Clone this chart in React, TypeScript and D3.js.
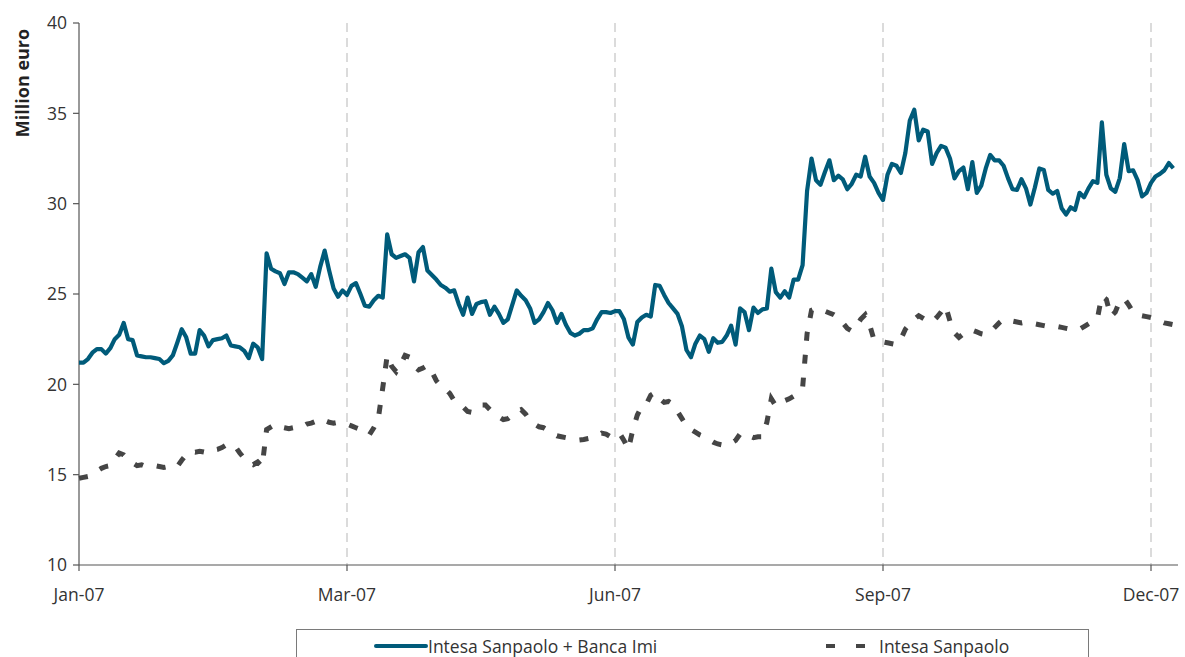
import * as React from 'react'
import { scaleLinear, line } from 'd3'

// category axis: one point per trading day, a label every 60 points
const tickIndex = [0, 60, 120, 180, 240]
const tickLabels = ['Jan-07', 'Mar-07', 'Jun-07', 'Sep-07', 'Dec-07']
const yTicks = [10, 15, 20, 25, 30, 35, 40]

const seriesNames = ['Intesa Sanpaolo + Banca Imi', 'Intesa Sanpaolo']

const groupValues = [
  21.2, 21.2, 21.4, 21.75, 21.95, 21.95, 21.7, 22.0, 22.5, 22.75,
  23.4, 22.5, 22.45, 21.6, 21.55, 21.5, 21.5, 21.45, 21.4, 21.17,
  21.3, 21.6, 22.3, 23.05, 22.6, 21.7, 21.7, 23.0, 22.7, 22.1,
  22.45, 22.5, 22.55, 22.7, 22.15, 22.1, 22.05, 21.85, 21.45, 22.25,
  22.05, 21.4, 27.25, 26.4, 26.25, 26.15, 25.55, 26.2, 26.2, 26.1,
  25.9, 25.7, 26.1, 25.4, 26.5, 27.4, 26.3, 25.3, 24.85, 25.2,
  24.95, 25.45, 25.6, 25.0, 24.35, 24.3, 24.65, 24.9, 24.8, 28.3,
  27.2, 27.0, 27.1, 27.2, 27.0, 25.7, 27.3, 27.6, 26.3, 26.05,
  25.8, 25.5, 25.35, 25.13, 25.2, 24.45, 23.85, 24.8, 23.9, 24.45,
  24.55, 24.6, 23.85, 24.3, 23.9, 23.4, 23.6, 24.4, 25.2, 24.9,
  24.65, 24.2, 23.4, 23.6, 24.0, 24.5, 24.1, 23.4, 23.9, 23.3,
  22.85, 22.7, 22.8, 23.0, 23.0, 23.1, 23.6, 24.0, 24.0, 23.95,
  24.05, 24.05, 23.6, 22.6, 22.2, 23.45, 23.7, 23.85, 23.75, 25.5,
  25.45, 24.95, 24.5, 24.2, 23.9, 23.2, 21.9, 21.5, 22.25, 22.7,
  22.5, 21.8, 22.55, 22.3, 22.35, 22.7, 23.25, 22.2, 24.2, 24.0,
  23.0, 24.25, 23.95, 24.15, 24.2, 26.4, 25.1, 24.8, 25.15, 24.8,
  25.8, 25.8, 26.6, 30.7, 32.5, 31.3, 31.05, 31.75, 32.4, 31.3,
  31.55, 31.35, 30.8, 31.1, 31.6, 31.5, 32.6, 31.5, 31.15, 30.6,
  30.2, 31.6, 32.2, 32.1, 31.7, 32.8, 34.6, 35.2, 33.5, 34.1,
  34.0, 32.2, 32.8, 33.2, 33.1, 32.5, 31.4, 31.8, 32.0, 30.8,
  32.3, 30.6, 31.0, 31.95, 32.7, 32.4, 32.4, 32.1, 31.4, 30.8,
  30.76, 31.35, 30.85, 29.95, 30.9, 31.95, 31.87, 30.76, 30.55, 30.7,
  29.75, 29.4, 29.8, 29.65, 30.6, 30.35, 30.85, 31.25, 31.15, 34.5,
  31.6, 30.85, 30.66, 31.4, 33.3, 31.8, 31.85, 31.3, 30.4, 30.6,
  31.15, 31.5, 31.65, 31.85, 32.25, 31.96,
]

const bankValues = [
  14.8, 14.85, 14.9, 15.05, 15.2, 15.35, 15.45, 15.5, 15.85, 16.2,
  16.1, 15.85, 15.65, 15.5, 15.55, 15.45, 15.5, 15.5, 15.45, 15.4,
  15.45, 15.4, 15.45, 15.8, 16.1, 16.3, 16.25, 16.3, 16.25, 16.2,
  16.35, 16.4, 16.5, 16.65, 16.7, 16.55, 16.2, 15.9, 15.65, 15.55,
  15.7, 15.45, 17.5, 17.65, 17.8, 17.65, 17.6, 17.55, 17.6, 17.55,
  17.65, 17.8, 17.85, 17.95, 18.1, 18.0, 17.9, 17.85, 17.9, 17.85,
  17.8, 17.7, 17.6, 17.5, 17.4, 17.2, 17.6, 18.1, 19.8, 21.6,
  21.0, 20.7, 21.1, 21.6, 21.5, 21.0, 20.8, 20.9, 21.05, 20.7,
  20.2, 19.9, 19.75, 19.5, 19.1, 18.9, 18.75, 18.5, 18.45, 18.6,
  18.85, 18.85, 18.6, 18.4, 18.2, 18.05, 18.1, 18.3, 18.5, 18.6,
  18.35, 18.0, 17.8, 17.65, 17.6, 17.45, 17.3, 17.15, 17.1, 17.05,
  17.0, 16.95, 16.92, 16.95, 17.0, 17.05, 17.15, 17.3, 17.25, 17.1,
  17.15, 17.3, 16.9, 16.4, 17.5, 18.3, 18.8, 18.9, 19.4, 19.55,
  19.2, 19.0, 19.05, 18.9, 18.5, 18.1, 17.7, 17.5, 17.35, 17.2,
  17.1, 16.95, 16.8, 16.7, 16.65, 16.6, 16.75, 16.9, 17.25, 17.3,
  17.15, 17.05, 17.1, 17.1, 17.9, 19.2, 18.8, 18.9, 19.1, 19.2,
  19.35, 19.5, 19.8, 22.8, 24.1, 24.2, 24.15, 24.05, 23.95, 23.85,
  23.7, 23.4, 23.1, 22.95, 23.2, 23.6, 23.85, 23.3, 22.45, 22.4,
  22.35, 22.3, 22.25, 22.2, 22.5, 23.05, 23.35, 23.6, 23.8, 23.65,
  23.5, 23.45, 23.7, 24.0, 24.35, 23.5, 22.85, 22.6, 22.8, 23.0,
  23.0, 22.9, 22.8, 22.75, 22.9, 23.15, 23.4, 23.6, 23.55, 23.5,
  23.45, 23.4, 23.45, 23.4, 23.35, 23.3, 23.25, 23.2, 23.15, 23.2,
  23.15, 23.1, 23.05, 23.05, 23.05, 23.2, 23.35, 23.5, 23.65, 24.9,
  24.7, 23.75, 24.0, 24.6, 24.75, 24.4, 24.0, 23.85, 23.8, 23.75,
  23.7, 23.55, 23.5, 23.4, 23.35, 23.3,
]

const BLUE = '#005b7a'
const GREY = '#454545'
const FONT = "'Open Sans', 'Noto Sans', sans-serif"

export default function App() {
  const width = 1185
  const height = 657
  const x = scaleLinear().domain([0, 240]).range([79, 1151])
  const y = scaleLinear().domain([10, 40]).range([565, 23])
  const path = line<number>()
    .x((d, i) => x(i))
    .y((d) => y(d))

  return (
    <svg
      width={width}
      height={height}
      style={{ position: 'absolute', left: 0, top: 0, background: '#fff' }}
      fontFamily={FONT}
    >
      {/* vertical dashed guides */}
      {tickIndex.slice(1).map((t) => (
        <line key={t} x1={x(t)} x2={x(t)} y1={y(40)} y2={y(10)} stroke="#c8c8c8" strokeWidth={1.3} strokeDasharray="9,6" />
      ))}

      {/* y axis */}
      <line x1={x(0)} x2={x(0)} y1={y(40)} y2={y(10)} stroke="#555" strokeWidth={1.2} />
      {yTicks.map((t) => (
        <g key={t}>
          <line x1={x(0) - 6} x2={x(0)} y1={y(t)} y2={y(t)} stroke="#555" strokeWidth={1.2} />
          <text x={x(0) - 12} y={y(t)} dy="0.36em" textAnchor="end" fontSize={17.5} fill="#333">
            {t}
          </text>
        </g>
      ))}
      <text
        transform={`translate(29, ${y(40) + 60}) rotate(-90)`}
        textAnchor="middle"
        fontSize={18}
        fontWeight="bold"
        fill="#222"
      >
        Million euro
      </text>

      {/* x axis */}
      <line x1={x(0)} x2={1178} y1={y(10)} y2={y(10)} stroke="#555" strokeWidth={1.2} />
      {tickIndex.map((t, i) => (
        <g key={t}>
          <line x1={x(t)} x2={x(t)} y1={y(10)} y2={y(10) + 6} stroke="#555" strokeWidth={1.2} />
          <text x={x(t)} y={601} textAnchor="middle" fontSize={17.5} fill="#333">
            {tickLabels[i]}
          </text>
        </g>
      ))}

      {/* series */}
      <path d={path(bankValues) ?? ''} fill="none" stroke={GREY} strokeWidth={5} strokeDasharray="9,14" />
      <path d={path(groupValues) ?? ''} fill="none" stroke={BLUE} strokeWidth={4.2} strokeLinejoin="round" />

      {/* legend */}
      <rect x={296.5} y={629.5} width={792} height={60} fill="none" stroke="#7a7a7a" strokeWidth={1} />
      <line x1={376} x2={426} y1={646} y2={646} stroke={BLUE} strokeWidth={4} strokeLinecap="round" />
      <text x={428} y={653} fontSize={17.5} fill="#333">
        {seriesNames[0]}
      </text>
      <line x1={826} x2={865} y1={646} y2={646} stroke={GREY} strokeWidth={4} strokeDasharray="9,21" />
      <text x={879} y={653} fontSize={17.5} fill="#333">
        {seriesNames[1]}
      </text>
    </svg>
  )
}
